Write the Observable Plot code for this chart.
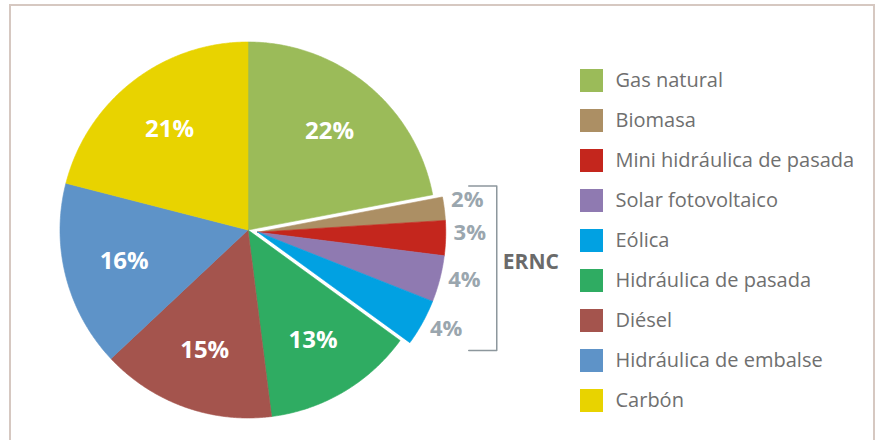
<!DOCTYPE html>
<html>
<head>
<meta charset="utf-8">
<script src="https://cdn.jsdelivr.net/npm/d3@7"></script>
<script src="https://cdn.jsdelivr.net/npm/@observablehq/plot@0.6"></script>
<style>
  html, body { margin: 0; padding: 0; background: #fff; }
  #wrap { position: relative; width: 882px; height: 440px; overflow: hidden; font-family: "Open Sans", sans-serif; }
  #border { position: absolute; left: 9px; top: 4px; width: 866px; height: 460px; border: 2.5px solid #d6c8c1; box-sizing: border-box; }
  #chart { position: absolute; left: 0; top: 0; }
</style>
</head>
<body>
<div id="wrap"><div id="border"></div><div id="chart"></div></div>
<script>
// ---- data ----
const categories = ["Gas natural", "Biomasa", "Mini hidráulica de pasada", "Solar fotovoltaico", "Eólica", "Hidráulica de pasada", "Diésel", "Hidráulica de embalse", "Carbón"];
const shares = [22, 2, 3, 4, 4, 13, 15, 16, 21];
const colors = ["#9bbb59", "#ac8f64", "#c4261d", "#8f7ab1", "#01a1e2", "#2fac62", "#a4544d", "#5e93c8", "#e8d300"];
const erncGroup = ["Biomasa", "Mini hidráulica de pasada", "Solar fotovoltaico", "Eólica"];
const groupLabel = "ERNC";

// ---- layout ----
const W = 882, H = 440;
const cx = 247.5, cy = 229.5, R = 188, explode = 10;
const innerLabelR = 0.68 * R, outerLabelR = 212;
const legendX = 580, legendY0 = 80.5, legendStep = 40, sw = 23;

const rows = categories.map((name, i) => ({name, value: shares[i], color: colors[i], ernc: erncGroup.includes(name)}));
const arcs = d3.pie().sort(null).value(d => d.value)(rows);
const ernArcs = arcs.filter(a => a.data.ernc);
const gMid = (ernArcs[0].startAngle + ernArcs[ernArcs.length - 1].endAngle) / 2;
const ox = explode * Math.sin(gMid), oy = -explode * Math.cos(gMid);

// polygon outline of each slice (derived from pie angles)
const slicePts = [];
arcs.forEach(a => {
  const dx = a.data.ernc ? ox : 0, dy = a.data.ernc ? oy : 0;
  const c = {x: cx + dx, y: cy + dy};
  slicePts.push({key: a.data.name, x: c.x, y: c.y});
  const n = Math.max(4, Math.ceil((a.endAngle - a.startAngle) / (Math.PI / 360)));
  for (let k = 0; k <= n; k++) {
    const t = a.startAngle + (a.endAngle - a.startAngle) * k / n;
    slicePts.push({key: a.data.name, x: c.x + R * Math.sin(t), y: c.y - R * Math.cos(t)});
  }
  slicePts.push({key: a.data.name, x: c.x, y: c.y});
});

const inner = arcs.filter(a => !a.data.ernc).map(a => {
  const m = (a.startAngle + a.endAngle) / 2;
  return {label: a.data.value + "%", x: cx + innerLabelR * Math.sin(m), y: cy - innerLabelR * Math.cos(m)};
});
const outer = ernArcs.map(a => {
  const m = (a.startAngle + a.endAngle) / 2 - 1.5 * Math.PI / 180;
  return {label: a.data.value + "%", x: cx + ox + outerLabelR * Math.sin(m), y: cy + oy - outerLabelR * Math.cos(m)};
});

// bracket around ERNC labels
const bTop = outer[0].y - 14, bBot = outer[outer.length - 1].y + 21;
const bRight = Math.max(...outer.map(o => o.x)) + 27, bLeft = bRight - 28;
const bracket = [
  {x: bLeft, y: bTop}, {x: bRight, y: bTop}, {x: bRight, y: bBot}, {x: bLeft, y: bBot}
];

const legend = categories.map((name, i) => ({name, y: legendY0 + i * legendStep}));

const chart = Plot.plot({
  width: W, height: H, margin: 0,
  style: {fontFamily: "'Open Sans', sans-serif", background: "transparent", overflow: "visible"},
  x: {axis: null, domain: [0, W], range: [0, W]},
  y: {axis: null, domain: [0, H], range: [0, H]},
  color: {domain: categories, range: colors},
  marks: [
    Plot.line(slicePts, {x: "x", y: "y", z: "key", fill: "key", stroke: "key", strokeWidth: 0.6, curve: "linear"}),
    Plot.text(inner, {x: "x", y: "y", text: "label", fill: "white", fontSize: 24, fontWeight: "bold"}),
    Plot.text(outer, {x: "x", y: "y", text: "label", fill: "#9aa6ae", fontSize: 22, fontWeight: "bold"}),
    Plot.line(bracket, {x: "x", y: "y", stroke: "#8d979d", strokeWidth: 1.5}),
    Plot.text([groupLabel], {x: bRight + 6, y: (bTop + bBot) / 2 - 6, text: d => d, textAnchor: "start", fill: "#6a6a6a", fontSize: 21, fontWeight: "bold"}),
    Plot.rect(legend, {x1: legendX, x2: legendX + sw, y1: d => d.y - sw / 2, y2: d => d.y + sw / 2, fill: "name"}),
    Plot.text(legend, {x: legendX + 35, y: "y", text: "name", textAnchor: "start", fill: "#6f6f6f", fontSize: 20})
  ]
});
document.getElementById("chart").appendChild(chart);
</script>
</body>
</html>
